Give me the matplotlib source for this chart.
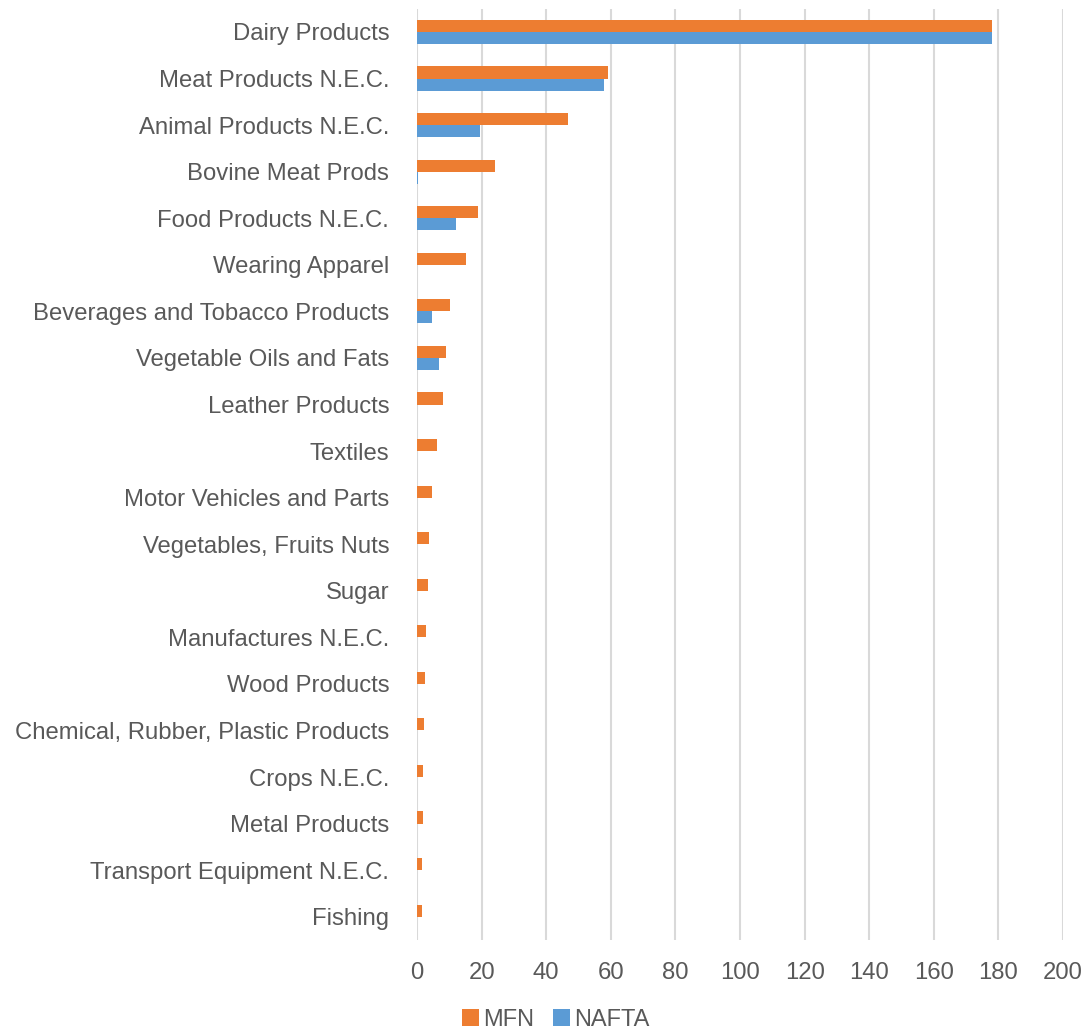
import matplotlib
matplotlib.use("Agg")
import matplotlib.pyplot as plt
import numpy as np

plt.rcParams['font.family'] = ['Liberation Sans', 'DejaVu Sans']

categories = [
    "Dairy Products", "Meat Products N.E.C.", "Animal Products N.E.C.",
    "Bovine Meat Prods", "Food Products N.E.C.", "Wearing Apparel",
    "Beverages and Tobacco Products", "Vegetable Oils and Fats",
    "Leather Products", "Textiles", "Motor Vehicles and Parts",
    "Vegetables, Fruits Nuts", "Sugar", "Manufactures N.E.C.",
    "Wood Products", "Chemical, Rubber, Plastic Products", "Crops N.E.C.",
    "Metal Products", "Transport Equipment N.E.C.", "Fishing",
]
mfn = [178.0, 59.1, 46.7, 24.3, 19.0, 15.2, 10.1, 9.1, 7.9, 6.1, 4.6,
       3.6, 3.3, 2.7, 2.4, 2.2, 2.0, 1.9, 1.5, 1.5]
nafta = [178.0, 58.0, 19.5, 0.3, 12.0, 0.0, 4.6, 6.7, 0.0, 0.0, 0.0,
         0.0, 0.0, 0.0, 0.0, 0.0, 0.0, 0.0, 0.0, 0.0]
xticks = list(range(0, 201, 20))

ORANGE = "#ED7D31"
BLUE = "#5B9BD5"
TEXT = "#595959"

fig = plt.figure(figsize=(10.81, 10.30), dpi=100)
ax = fig.add_axes([417 / 1081, 1 - 940 / 1030, (1063 - 417) / 1081, (940 - 8.7) / 1030])

y = np.arange(len(categories))
h = 0.26
ax.barh(y - h / 2, mfn, height=h, color=ORANGE, label="MFN", zorder=3)
ax.barh(y + h / 2, nafta, height=h, color=BLUE, label="NAFTA", zorder=3)

ax.set_ylim(len(categories) - 0.5, -0.5)
ax.set_xlim(0, 200)
ax.set_xticks(xticks)
ax.set_xticklabels([str(v) for v in xticks])
ax.set_yticks(y)
ax.set_yticklabels(categories)

ax.grid(axis="x", color="#d9d9d9", linewidth=1.5, zorder=0)
ax.set_axisbelow(True)
for s in ax.spines.values():
    s.set_visible(False)
ax.tick_params(axis="both", length=0, labelsize=17.2, colors=TEXT)
ax.tick_params(axis="y", pad=20)
ax.tick_params(axis="x", pad=16)

fig.legend(loc="center", bbox_to_anchor=(556 / 1081, 1 - 1020 / 1030), ncol=2,
           frameon=False, fontsize=17, labelcolor=TEXT, handlelength=0.7,
           handleheight=0.7, handletextpad=0.2, columnspacing=0.8)

fig.savefig("out.png", dpi=100)
